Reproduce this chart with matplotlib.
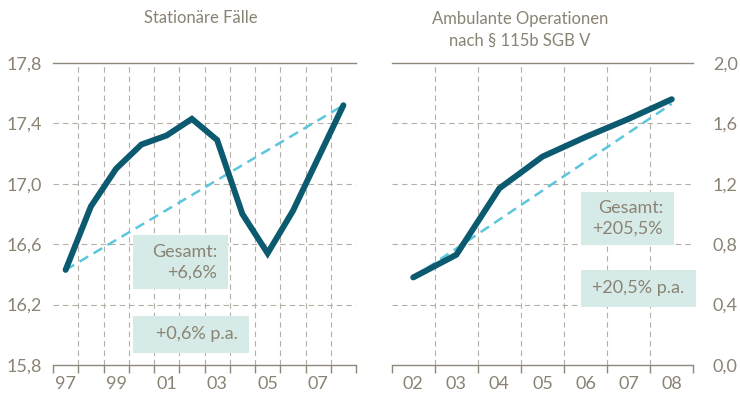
import matplotlib
matplotlib.use("Agg")
import matplotlib.pyplot as plt
from matplotlib.patches import Rectangle
import numpy as np

plt.rcParams['font.family'] = ['Lato', 'DejaVu Sans']

# ---------------- data ----------------
years_left = [1997, 1998, 1999, 2000, 2001, 2002, 2003, 2004, 2005, 2006, 2007, 2008]
stationaer = [16.43, 16.85, 17.10, 17.26, 17.32, 17.43, 17.29, 16.80, 16.54, 16.82, 17.17, 17.52]
left_labels_years = [1997, 1999, 2001, 2003, 2005, 2007]
left_labels = ['97', '99', '01', '03', '05', '07']
left_yticks = [15.8, 16.2, 16.6, 17.0, 17.4, 17.8]
left_ylabels = ['15,8', '16,2', '16,6', '17,0', '17,4', '17,8']

years_right = [2002, 2003, 2004, 2005, 2006, 2007, 2008]
ambulant = [0.58, 0.73, 1.17, 1.38, 1.51, 1.63, 1.76]
right_labels = ['02', '03', '04', '05', '06', '07', '08']
right_yticks = [0.0, 0.4, 0.8, 1.2, 1.6, 2.0]
right_ylabels = ['0,0', '0,4', '0,8', '1,2', '1,6', '2,0']

title_left = 'Stationäre Fälle'
title_right = 'Ambulante Operationen\nnach § 115b SGB V'
left_box1 = 'Gesamt:\n+6,6%'
left_box2 = '+0,6% p.a.'
right_box1 = 'Gesamt:\n+205,5%'
right_box2 = '+20,5% p.a.'

# ---------------- style ----------------
TEXT = '#8a8374'
GRID = '#b5b0a6'
AXIS = '#8f887b'
LINE = '#0b5a6f'
TREND = '#5cc6dc'
BOX = '#d6ebe7'
W, H = 740, 401

fig = plt.figure(figsize=(7.4, 4.01), dpi=100)


def px_axes(x0, x1, y0, y1):
    return fig.add_axes([x0 / W, 1 - y1 / H, (x1 - x0) / W, (y1 - y0) / H])


def style(ax, years, ylo, yhi, yticks, ylabels, side):
    ax.set_ylim(ylo, yhi)
    ax.set_xlim(years[0] - 0.5, years[-1] + 0.5)
    for s in ['left', 'right']:
        ax.spines[s].set_visible(False)
    ax.spines['top'].set_color(AXIS)
    ax.spines['top'].set_linewidth(1.0)
    ax.spines['bottom'].set_color(AXIS)
    ax.spines['bottom'].set_linewidth(1.0)
    # horizontal dashed grid
    for yv in yticks[1:-1]:
        ax.axhline(yv, color=GRID, lw=0.8, ls=(0, (5, 3.5)), zorder=1)
    # vertical dashed grid at category boundaries
    bounds = np.arange(years[0] - 0.5, years[-1] + 0.51, 1.0)
    for b in bounds[1:-1]:
        ax.axvline(b, color=GRID, lw=0.8, ls=(0, (5, 3.5)), zorder=1)
    ax.set_xticks(bounds)
    ax.set_xticklabels([])
    ax.tick_params(axis='x', which='major', length=5.5, width=1.0, color=AXIS, direction='out')
    ax.set_yticks(yticks)
    ax.set_yticklabels(ylabels)
    ax.tick_params(axis='y', length=0, labelsize=13, labelcolor=TEXT)
    if side == 'right':
        ax.yaxis.tick_right()
        ax.tick_params(axis='y', pad=14, length=0)
    else:
        ax.tick_params(axis='y', pad=8, length=0)


# ---- left panel ----
axL = px_axes(53, 356, 63, 365)
style(axL, years_left, 15.8, 17.8, left_yticks, left_ylabels, 'left')
axL.set_xticks(left_labels_years, minor=True)
axL.set_xticklabels(left_labels, minor=True)
axL.tick_params(axis='x', which='minor', length=0, labelsize=13, labelcolor=TEXT, pad=8)
axL.plot([years_left[0], years_left[-1]], [stationaer[0], stationaer[-1]],
         color=TREND, lw=1.8, ls=(0, (4, 2.5)), zorder=3)
axL.plot(years_left, stationaer, color=LINE, lw=4.3, solid_joinstyle='miter',
         solid_capstyle='round', zorder=4)

# ---- right panel ----
axR = px_axes(391.7, 693.3, 63, 365)
style(axR, years_right, 0.0, 2.0, right_yticks, right_ylabels, 'right')
axR.set_xticks(years_right, minor=True)
axR.set_xticklabels(right_labels, minor=True)
axR.tick_params(axis='x', which='minor', length=0, labelsize=13, labelcolor=TEXT, pad=8)
axR.plot([years_right[0], years_right[-1]], [ambulant[0], ambulant[-1] - 0.03],
         color=TREND, lw=1.8, ls=(0, (4, 2.5)), zorder=3)
axR.plot(years_right, ambulant, color=LINE, lw=4.3, solid_joinstyle='miter',
         solid_capstyle='round', zorder=4)


# ---- annotation boxes ----
def box(ax, x0, x1, y0, y1, text, ls=1.35):
    ax.add_patch(Rectangle((x0, y0), x1 - x0, y1 - y0, transform=ax.transAxes,
                           facecolor=BOX, edgecolor='none', zorder=2.5, clip_on=False))
    ax.text(x1 - 0.037, (y0 + y1) / 2, text, transform=ax.transAxes, ha='right',
            va='center', ma='right', fontsize=13, color=TEXT, linespacing=ls, zorder=5)


box(axL, 0.264, 0.578, 0.252, 0.430, left_box1)
box(axL, 0.264, 0.647, 0.040, 0.162, left_box2)
box(axR, 0.627, 0.937, 0.397, 0.574, right_box1)
box(axR, 0.627, 1.008, 0.193, 0.315, right_box2)

# ---- titles ----
fig.text(201 / W, 1 - 18 / H, title_left, ha='center', va='center', fontsize=12, color=TEXT)
fig.text(520 / W, 1 - 30 / H, title_right, ha='center', va='center', fontsize=12,
         color=TEXT, linespacing=1.45)

fig.savefig('out.png', dpi=100)
